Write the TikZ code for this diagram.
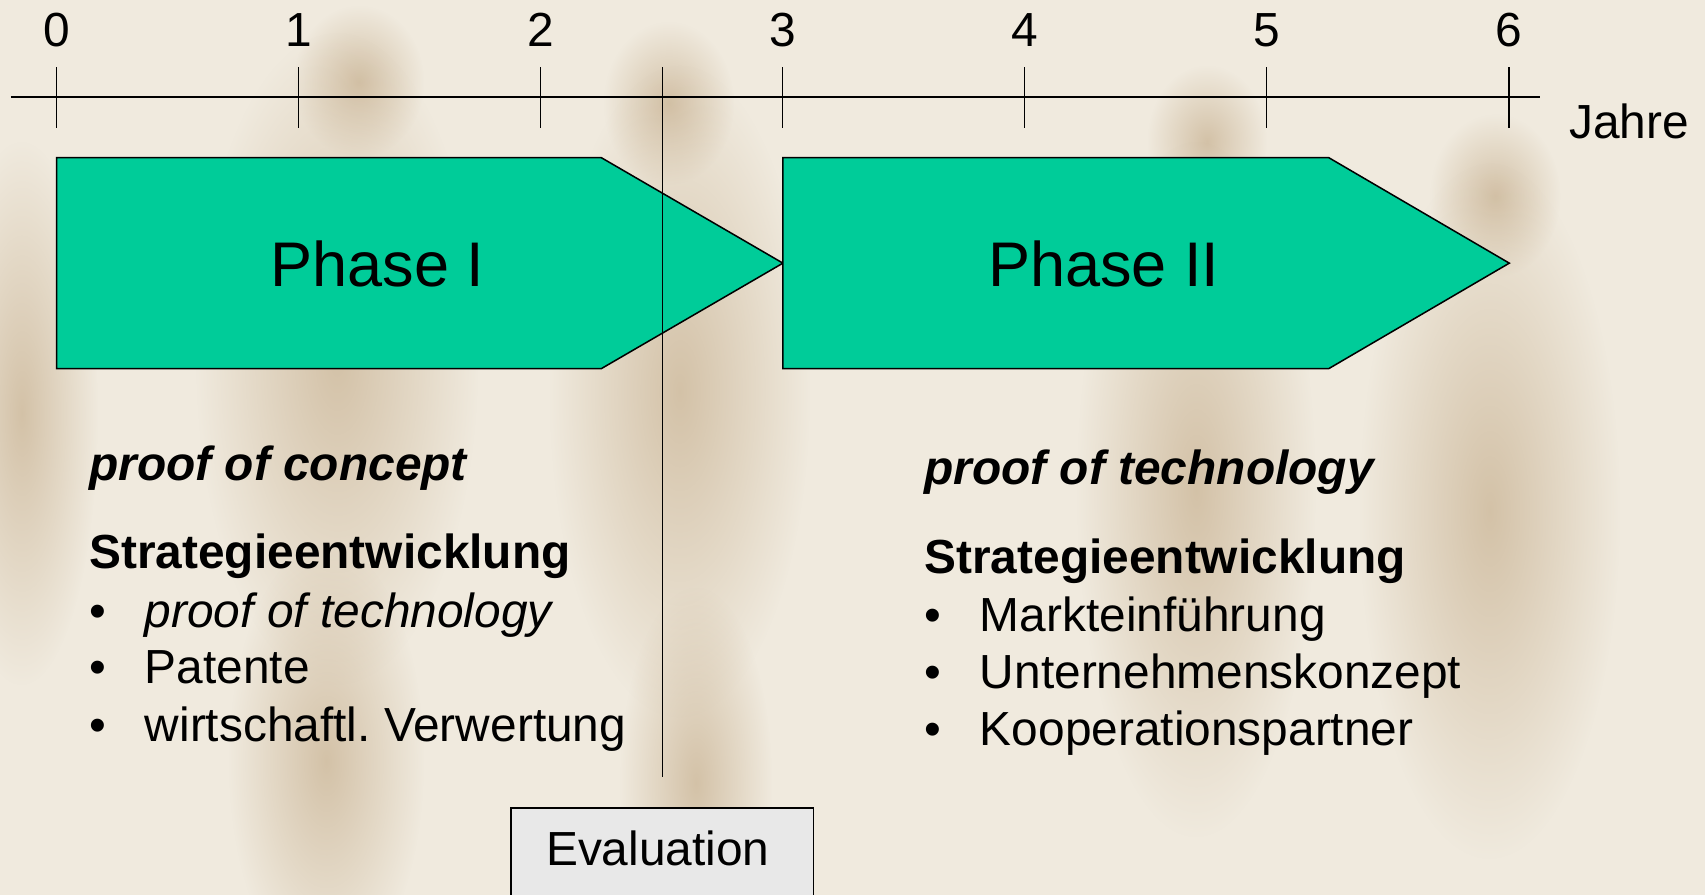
\documentclass[tikz,border=0pt]{standalone}
\usepackage{fontspec}
\setmainfont{Liberation Sans}
\usepackage{xcolor}
\usepackage{tikz}
\usetikzlibrary{fadings}

\definecolor{vertphase}{RGB}{0,204,153}
\definecolor{fondbeige}{RGB}{240,234,222}
\definecolor{ombre}{RGB}{196,172,138}
\definecolor{grisbox}{RGB}{232,232,232}

\tikzfading[name=flou, inner color=transparent!35, outer color=transparent!100]

\tikzset{
  texte/.style={anchor=base west, inner sep=0pt, font=\fontsize{44}{53}\selectfont},
  chiffre/.style={anchor=base, inner sep=0pt, font=\fontsize{44}{53}\selectfont},
  phase/.style={draw=black, line width=1.4pt, fill=vertphase},
  titre/.style={inner sep=0pt, font=\fontsize{58}{70}\selectfont},
  silhouette/.style={fill=ombre, path fading=flou}
}

\begin{document}
\begin{tikzpicture}[x=1pt,y=-1pt]

% Fond
\fill[fondbeige] (0,0) rectangle (1568,823);
\useasboundingbox (0,0) rectangle (1568,823);
\clip (0,0) rectangle (1568,823);

% Silhouettes floues
\fill[silhouette] (330,75) ellipse (60 and 70);
\fill[silhouette] (310,330) ellipse (130 and 300);
\fill[silhouette] (300,700) ellipse (90 and 200);
\fill[silhouette] (615,95) ellipse (60 and 75);
\fill[silhouette] (625,360) ellipse (120 and 300);
\fill[silhouette] (640,720) ellipse (70 and 180);
\fill[silhouette] (1110,130) ellipse (55 and 70);
\fill[silhouette] (1100,450) ellipse (110 and 320);
\fill[silhouette] (1375,180) ellipse (60 and 75);
\fill[silhouette] (1370,470) ellipse (120 and 320);
\fill[silhouette] (20,380) ellipse (70 and 250);

% Axe des annees
\coordinate (debut) at (10,89);
\coordinate (fin) at (1416,89);
\draw[line width=1.8pt] (debut) -- (fin);
\foreach \an in {0,...,6} {
  \coordinate (t\an) at ({52+222.6*\an},89);
  \draw[line width=1.2pt] (t\an) ++(0,-27) -- ++(0,56);
  \node[chiffre] (n\an) at ({52+222.6*\an},43) {\an};
}
\node[texte] (jahre) at (1443,127) {Jahre};

% Fleches des phases
\draw[phase] (52,145) -- (553,145) -- (720,242) -- (553,339) -- (52,339) -- cycle;
\draw[phase] (720,145) -- (1222,145) -- (1388,242) -- (1222,339) -- (720,339) -- cycle;
\node[titre] (phase1) at (347,243) {Phase I};
\node[titre] (phase2) at (1015,243) {Phase II};

% Ligne d'evaluation
\coordinate (evalhaut) at (609,62);
\coordinate (evalbas) at (609,715);
\draw[line width=1.2pt] (evalhaut) -- (evalbas);

% Boite Evaluation
\draw[line width=1.2pt, fill=grisbox] (470,743) rectangle (748,860);
\node[inner sep=0pt, font=\fontsize{44}{53}\selectfont] (evaluation) at (605,780) {Evaluation};

% Phase I : textes
\node[texte] (concept) at (82,442) {\bfseries\itshape proof of concept};
\node[texte] (strat1) at (82,523) {\bfseries Strategieentwicklung};
\node[texte] (b11) at (82,577) {•};
\node[texte] (i11) at (133,577) {\itshape proof of technology};
\node[texte] (b12) at (82,629) {•};
\node[texte] (i12) at (133,629) {Patente};
\node[texte] (b13) at (82,682) {•};
\node[texte] (i13) at (133,682) {wirtschaftl.\ Verwertung};

% Phase II : textes
\node[texte] (technology) at (850,446) {\bfseries\itshape proof of technology};
\node[texte] (strat2) at (850,527) {\bfseries Strategieentwicklung};
\node[texte] (b21) at (850,581) {•};
\node[texte] (i21) at (901,581) {Markteinführung};
\node[texte] (b22) at (850,633) {•};
\node[texte] (i22) at (901,633) {Unternehmenskonzept};
\node[texte] (b23) at (850,686) {•};
\node[texte] (i23) at (901,686) {Kooperationspartner};

\end{tikzpicture}
\end{document}
